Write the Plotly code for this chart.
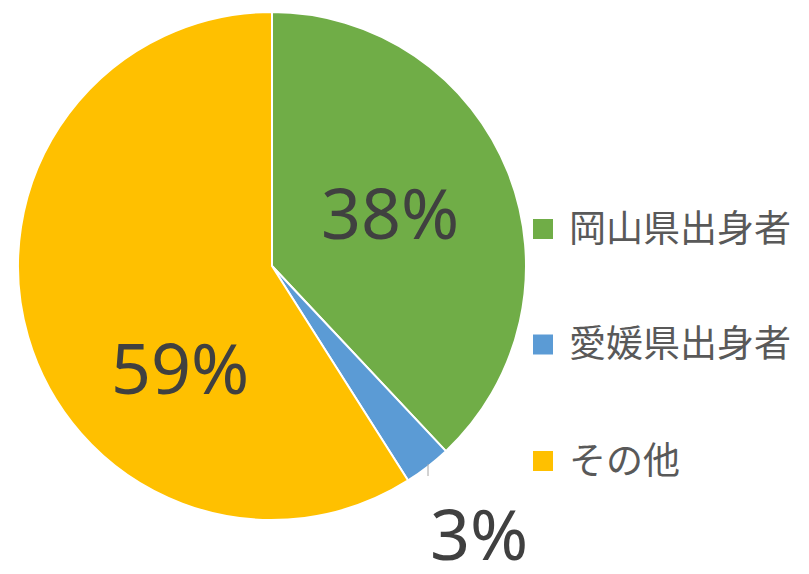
import plotly.graph_objects as go

labels = ["岡山県出身者", "愛媛県出身者", "その他"]
values = [38, 3, 59]
colors = ["#70AD47", "#5B9BD5", "#FFC000"]

W, H = 809, 574
OFF = 8  # page body margin in the browser

def px(x, y):
    return (x - OFF) / W, 1 - (y - OFF) / H

dx0, dy0 = px(18, 520)
dx1, dy1 = px(526, 12)

fig = go.Figure(go.Pie(
    labels=labels,
    values=values,
    sort=False,
    direction="clockwise",
    rotation=0,
    marker=dict(colors=colors, line=dict(color="white", width=2)),
    textinfo="none",
    hoverinfo="label+percent",
    domain=dict(x=[dx0, dx1], y=[dy0, dy1]),
    showlegend=False,
))

# percentage labels (placed like the original's best-fit layout)
label_pos = [(390, 212), (479, 533), (180, 367)]
total = sum(values)
for v, (x, y) in zip(values, label_pos):
    ax, ay = px(x, y)
    fig.add_annotation(text=f"{round(v / total * 100)}%", x=ax, y=ay,
                       xref="paper", yref="paper", showarrow=False,
                       xanchor="center", yanchor="middle",
                       font=dict(family="Noto Sans", size=70, color="#404040"))

# leader line for the small slice
x0, y0 = px(428, 464)
x1, y1 = px(428, 476)
fig.add_shape(type="line", xref="paper", yref="paper", x0=x0, y0=y0, x1=x1, y1=y1,
              line=dict(color="#A6A6A6", width=1))

# legend drawn by hand to match the wide item spacing
legend_y = [229, 344.5, 461]
for lab, col, ly in zip(labels, colors, legend_y):
    sx0, sy0 = px(533, ly - 10)
    sx1, sy1 = px(553, ly + 10)
    fig.add_shape(type="rect", xref="paper", yref="paper",
                  x0=sx0, y0=sy0, x1=sx1, y1=sy1,
                  fillcolor=col, line=dict(width=0))
    tx, ty = px(567, ly - 3)
    fig.add_annotation(text=lab, x=tx, y=ty, xref="paper", yref="paper",
                       showarrow=False, xanchor="left", yanchor="middle",
                       font=dict(family="Noto Sans CJK JP", size=37, color="#595959"))

fig.update_layout(
    width=W, height=H,
    margin=dict(l=0, r=0, t=0, b=0),
    paper_bgcolor="white",
    plot_bgcolor="white",
)

fig.write_html("out.html")
